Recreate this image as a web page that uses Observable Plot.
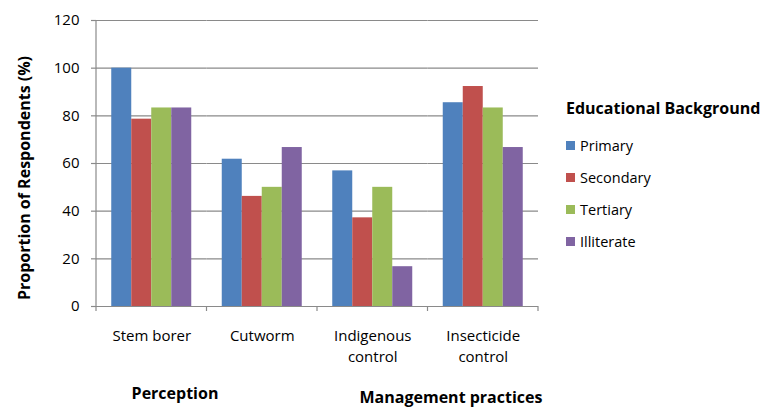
<!DOCTYPE html>
<html>
<head>
<meta charset="utf-8">
<script src="https://cdn.jsdelivr.net/npm/d3@7"></script>
<script src="https://cdn.jsdelivr.net/npm/@observablehq/plot@0.6"></script>
<style>
  html, body { margin: 0; padding: 0; background: #fff; }
  #wrap { position: relative; width: 764px; height: 408px; font-family: "Open Sans", sans-serif; color: #000; }
  #wrap svg { display: block; }
  .ov { position: absolute; white-space: nowrap; line-height: 1; }
  .bold { font-weight: bold; }
  #ytitle { left: 24px; top: 178px; font-size: 16px; transform: translate(-50%, -50%) rotate(-90deg); }
  #g1 { left: 175px; top: 385px; font-size: 16px; transform: translateX(-50%); }
  #g2 { left: 451px; top: 389px; font-size: 16px; transform: translateX(-50%); }
  #legend { position: absolute; left: 566px; top: 100px; }
  #legend .title { font-size: 16px; font-weight: bold; line-height: 1; margin-bottom: 13px; }
  #legend .item { display: flex; align-items: center; height: 32px; font-size: 14.5px; }
  #legend .sw { width: 9px; height: 9px; margin-right: 5px; }
</style>
</head>
<body>
<div id="wrap"></div>
<script>
const categories = ["Stem borer", "Cutworm", "Indigenous control", "Insecticide control"];
const categoryLabels = ["Stem borer", "Cutworm", "Indigenous\ncontrol", "Insecticide\ncontrol"];
const seriesNames = ["Primary", "Secondary", "Tertiary", "Illiterate"];
const primary = [100, 61.8, 56.9, 85.5];
const secondary = [78.6, 46.2, 37.2, 92.3];
const tertiary = [83.3, 50, 50, 83.3];
const illiterate = [83.3, 66.7, 16.7, 66.7];
const colors = ["#4F81BD", "#C0504D", "#9BBB59", "#8064A2"];
const yTicks = [0, 20, 40, 60, 80, 100, 120];
const yTitle = "Proportion of Respondents (%)";
const groupLabels = ["Perception", "Management practices"];
const legendTitle = "Educational Background";

const seriesValues = [primary, secondary, tertiary, illiterate];
const data = categories.flatMap((c, i) =>
  seriesNames.map((s, j) => ({category: c, series: s, value: seriesValues[j][i]}))
);

const gridColor = "#8A8A8A";
let axisDrawn = false;

const chart = Plot.plot({
  width: 764,
  height: 408,
  marginLeft: 96,
  marginRight: 226,
  marginTop: 20,
  marginBottom: 102,
  style: {fontFamily: "'Open Sans', sans-serif", fontSize: "15px", color: "#000", background: "transparent"},
  fx: {domain: categories, padding: 0, round: false, label: null},
  x: {domain: seriesNames, paddingInner: 0, paddingOuter: 0.7625, round: false, axis: null},
  y: {domain: [0, 120], label: null},
  color: {domain: seriesNames, range: colors},
  marks: [
    Plot.gridY(yTicks, {stroke: gridColor, strokeOpacity: 1, strokeWidth: 1.2}),
    Plot.axisY(yTicks, {tickSize: 5, tickPadding: 12, stroke: gridColor, strokeWidth: 1.2, label: null, fill: "#000"}),
    Plot.barY(data, {fx: "category", x: "series", y: "value", fill: "series"}),
    Plot.axisFx({anchor: "bottom", tickSize: 0, tickPadding: 20, label: null, fill: "#000", lineHeight: 1.4,
      tickFormat: d => categoryLabels[categories.indexOf(d)]}),
    (index, scales, values, dims) => {
      if (axisDrawn) return null;
      axisDrawn = true;
      const g = d3.create("svg:g").attr("stroke", gridColor).attr("stroke-width", 1.2);
      const y0 = scales.y(0), yTop = scales.y(120);
      const fx = scales.fx;
      let bounds;
      if (fx) {
        const bw = typeof fx.bandwidth === "function" ? fx.bandwidth() : fx.bandwidth;
        bounds = categories.map(c => fx(c));
        bounds.push(fx(categories[categories.length - 1]) + bw);
      } else {
        const w = (dims.width - dims.marginLeft - dims.marginRight) / categories.length;
        bounds = d3.range(categories.length + 1).map(i => dims.marginLeft + i * w);
      }
      g.append("line").attr("x1", bounds[0]).attr("x2", bounds[0]).attr("y1", yTop).attr("y2", y0);
      for (const b of bounds) {
        g.append("line").attr("x1", b).attr("x2", b).attr("y1", y0).attr("y2", y0 + 5);
      }
      return g.node();
    }
  ]
});

const wrap = document.getElementById("wrap");
wrap.appendChild(chart);

function addDiv(id, cls, text) {
  const d = document.createElement("div");
  d.id = id; d.className = cls; d.textContent = text;
  wrap.appendChild(d);
  return d;
}
addDiv("ytitle", "ov bold", yTitle);
addDiv("g1", "ov bold", groupLabels[0]);
addDiv("g2", "ov bold", groupLabels[1]);

const legend = document.createElement("div");
legend.id = "legend";
const lt = document.createElement("div");
lt.className = "title"; lt.textContent = legendTitle;
legend.appendChild(lt);
seriesNames.forEach((s, i) => {
  const it = document.createElement("div");
  it.className = "item";
  const sw = document.createElement("span");
  sw.className = "sw"; sw.style.background = colors[i];
  const tx = document.createElement("span");
  tx.textContent = s;
  it.appendChild(sw); it.appendChild(tx);
  legend.appendChild(it);
});
wrap.appendChild(legend);
</script>
</body>
</html>
